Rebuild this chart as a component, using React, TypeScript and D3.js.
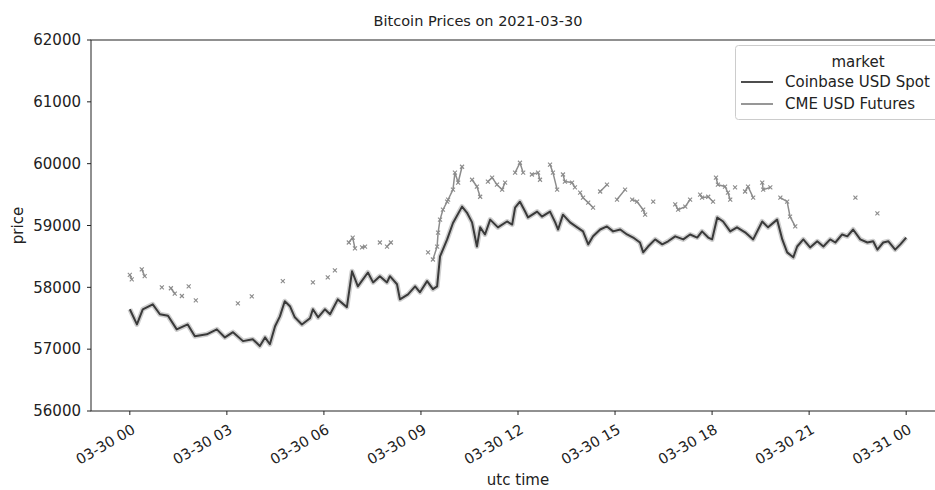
import React from "react";
import * as d3 from "d3";

const chartTitle = "Bitcoin Prices on 2021-03-30";
const seriesNames = ["Coinbase USD Spot", "CME USD Futures"];
const yTickValues = [56000, 57000, 58000, 59000, 60000, 61000, 62000];

// hours after 2021-03-30 00:00 UTC
const coinbaseHours = [0, 0.22, 0.4, 0.71, 0.93, 1.18, 1.45, 1.79, 2.01, 2.38, 2.69, 2.94, 3.19, 3.5, 3.8, 4.02, 4.18, 4.33, 4.49, 4.64, 4.79, 4.95, 5.1, 5.32, 5.57, 5.66, 5.82, 6.03, 6.19, 6.43, 6.71, 6.87, 7.05, 7.36, 7.52, 7.73, 7.95, 8.04, 8.26, 8.35, 8.6, 8.82, 8.97, 9.19, 9.37, 9.5, 9.59, 9.81, 9.99, 10.27, 10.42, 10.58, 10.73, 10.83, 10.98, 11.14, 11.38, 11.66, 11.82, 11.91, 12.06, 12.22, 12.31, 12.59, 12.74, 12.99, 13.15, 13.24, 13.39, 13.61, 13.83, 14.01, 14.17, 14.32, 14.54, 14.75, 14.94, 15.16, 15.37, 15.56, 15.77, 15.87, 16.02, 16.24, 16.46, 16.64, 16.86, 17.11, 17.32, 17.54, 17.69, 17.88, 18.0, 18.16, 18.34, 18.56, 18.77, 19.02, 19.27, 19.55, 19.73, 20.01, 20.17, 20.32, 20.51, 20.63, 20.82, 21.03, 21.25, 21.44, 21.65, 21.81, 22.02, 22.18, 22.36, 22.58, 22.8, 22.98, 23.11, 23.29, 23.45, 23.66, 23.82, 24.0];
const coinbasePrices = [57645, 57400, 57645, 57725, 57565, 57540, 57320, 57400, 57210, 57240, 57320, 57190, 57275, 57130, 57160, 57050, 57190, 57080, 57370, 57530, 57775, 57695, 57515, 57400, 57500, 57645, 57515, 57645, 57565, 57805, 57680, 58260, 58015, 58240, 58080, 58180, 58080, 58180, 58050, 57805, 57885, 58015, 57920, 58100, 57970, 58015, 58500, 58775, 59040, 59305, 59210, 59050, 58660, 58970, 58855, 59095, 58970, 59065, 59015, 59290, 59385, 59225, 59130, 59225, 59145, 59225, 59050, 58935, 59175, 59050, 58970, 58905, 58695, 58825, 58935, 58985, 58905, 58935, 58855, 58805, 58725, 58565, 58660, 58775, 58695, 58745, 58825, 58775, 58855, 58805, 58905, 58805, 58775, 59130, 59065, 58905, 58970, 58890, 58775, 59065, 58970, 59095, 58775, 58565, 58485, 58660, 58775, 58645, 58745, 58660, 58775, 58725, 58855, 58825, 58935, 58775, 58725, 58745, 58610, 58725, 58745, 58610, 58695, 58805];

// null marks a gap in the futures series
const cmeHours = [0.0, 0.06, null, 0.37, 0.46, null, 0.99, null, 1.27, 1.39, null, 1.61, null, 1.82, null, 2.04, null, 3.34, null, 3.77, null, 4.73, null, 5.66, null, 6.12, null, 6.34, null, 6.77, 6.89, 6.96, null, 7.18, 7.27, null, 7.73, null, 7.95, 8.07, null, 9.22, null, 9.37, 9.5, 9.53, 9.59, 9.68, 9.81, 9.84, 9.99, 10.05, 10.15, 10.27, null, 10.58, 10.73, 10.83, null, 11.07, 11.2, 11.35, 11.51, 11.6, null, 11.91, 12.06, 12.16, null, 12.43, 12.62, 12.68, null, 12.99, 13.08, 13.21, null, 13.39, 13.45, 13.67, 13.76, null, 13.92, 14.01, 14.17, 14.32, null, 14.54, 14.75, null, 15.06, 15.31, null, 15.53, 15.68, 15.87, 15.93, null, 16.18, null, 16.86, 16.95, 17.17, 17.32, null, 17.63, 17.69, 17.88, 18.03, null, 18.12, 18.18, 18.4, 18.49, 18.56, null, 18.71, null, 19.02, 19.11, 19.27, null, 19.55, 19.58, 19.8, null, 20.11, 20.32, 20.41, 20.57, null, 22.43, null, 23.11];
const cmePrices = [58200, 58130, null, 58290, 58180, null, 58000, null, 57985, 57900, null, 57860, null, 58015, null, 57790, null, 57740, null, 57855, null, 58100, null, 58080, null, 58160, null, 58275, null, 58725, 58805, 58630, null, 58645, 58660, null, 58725, null, 58660, 58725, null, 58565, null, 58450, 58660, 58885, 59095, 59255, 59385, 59420, 59580, 59855, 59695, 59950, null, 59740, 59630, 59465, null, 59710, 59775, 59660, 59580, 59695, null, 59855, 60015, 59855, null, 59825, 59855, 59740, null, 59985, 59855, 59580, null, 59825, 59710, 59695, 59615, null, 59530, 59450, 59370, 59290, null, 59550, 59660, null, 59420, 59580, null, 59420, 59385, 59255, 59175, null, 59385, null, 59340, 59255, 59305, 59420, null, 59500, 59450, 59465, 59385, null, 59775, 59660, 59630, 59530, 59420, null, 59615, null, 59550, 59630, 59450, null, 59695, 59580, 59615, null, 59450, 59385, 59145, 58985, null, 59450, null, 59195];

const W = 935;
const H = 490;
const M = { left: 91, top: 40, right: 945, bottom: 411 };
const FONT = "DejaVu Sans, sans-serif";
const FS = 15;

const t0 = Date.UTC(2021, 2, 30);
const at = (h: number) => new Date(t0 + h * 3600e3);

export default function App() {
  const x = d3.scaleUtc().domain([at(-1.2), at(25.2)]).range([M.left, M.right]);
  const y = d3.scaleLinear().domain([56000, 62000]).range([M.bottom, M.top]);
  const xTicks = x.ticks(d3.utcHour.every(3) as any).filter((d) => +d >= t0 && +d <= t0 + 24 * 3600e3);
  const fmt = d3.utcFormat("%m-%d %H");

  const cb = coinbaseHours.map((h, i) => ({ h, p: coinbasePrices[i] }));
  const cme = cmeHours.map((h, i) => ({ h, p: cmePrices[i] }));
  const line = d3
    .line<{ h: number | null; p: number | null }>()
    .defined((d) => d.h !== null && d.p !== null)
    .x((d) => x(at(d.h as number)))
    .y((d) => y(d.p as number));

  const cbPath = line(cb as any) || "";
  const cmePath = line(cme) || "";
  const cbColor = "#3a3a3a";
  const cmeColor = "#8c8c8c";

  return (
    <svg width={W} height={H} style={{ position: "absolute", left: 0, top: 0, background: "#fff" }} fontFamily={FONT}>
      <defs>
        <clipPath id="plot">
          <rect x={M.left} y={M.top} width={M.right - M.left} height={M.bottom - M.top} />
        </clipPath>
      </defs>
      <rect x={0} y={0} width={W} height={H} fill="#fff" />
      <g clipPath="url(#plot)">
        <path d={cmePath} fill="none" stroke={cmeColor} strokeWidth={1.5} strokeLinejoin="round" strokeLinecap="round" />
        {cme
          .filter((d) => d.h !== null)
          .map((d, i) => (
            <g key={i} stroke={cmeColor} strokeWidth={1.1}>
              <line x1={x(at(d.h as number)) - 2} x2={x(at(d.h as number)) + 2} y1={y(d.p as number) - 2} y2={y(d.p as number) + 2} />
              <line x1={x(at(d.h as number)) - 2} x2={x(at(d.h as number)) + 2} y1={y(d.p as number) + 2} y2={y(d.p as number) - 2} />
            </g>
          ))}
        <path d={cbPath} fill="none" stroke="#a0a0a0" strokeOpacity={0.5} strokeWidth={5} strokeLinejoin="round" />
        <path d={cbPath} fill="none" stroke={cbColor} strokeWidth={2} strokeLinejoin="round" />
      </g>
      {/* spines */}
      <rect x={M.left} y={M.top} width={M.right - M.left} height={M.bottom - M.top} fill="none" stroke="#222" strokeWidth={1} />
      {/* y axis */}
      {yTickValues.map((v) => (
        <g key={v}>
          <line x1={M.left - 4} x2={M.left} y1={y(v)} y2={y(v)} stroke="#222" />
          <text x={M.left - 10} y={y(v)} dy="0.35em" textAnchor="end" fontSize={FS} fill="#222">
            {v}
          </text>
        </g>
      ))}
      {/* x axis */}
      {xTicks.map((d) => (
        <g key={+d}>
          <line x1={x(d)} x2={x(d)} y1={M.bottom} y2={M.bottom + 4} stroke="#222" />
          <text
            transform={`translate(${x(d) + 1},${M.bottom + 12}) rotate(-30)`}
            dy="0.75em"
            textAnchor="end"
            fontSize={14.5}
            fill="#222"
          >
            {fmt(d)}
          </text>
        </g>
      ))}
      <text x={(M.left + 945) / 2} y={485} textAnchor="middle" fontSize={FS} fill="#222">
        utc time
      </text>
      <text transform={`translate(23,${(M.top + M.bottom) / 2}) rotate(-90)`} textAnchor="middle" fontSize={FS} fill="#222">
        price
      </text>
      <text x={478} y={26} textAnchor="middle" fontSize={14.5} fill="#222">
        {chartTitle}
      </text>
      {/* legend */}
      <g>
        <rect x={735.5} y={45.5} width={210} height={74} rx={3} fill="#fff" fillOpacity={0.8} stroke="#cccccc" />
        <text x={858} y={67} textAnchor="middle" fontSize={FS} fill="#222">
          market
        </text>
        {seriesNames.map((name, i) => (
          <g key={name}>
            <line x1={741} x2={773} y1={82 + i * 22} y2={82 + i * 22} stroke={i === 0 ? cbColor : cmeColor} strokeWidth={1.8} />
            <text x={785} y={82 + i * 22} dy="0.35em" fontSize={FS} fill="#222">
              {name}
            </text>
          </g>
        ))}
      </g>
    </svg>
  );
}
